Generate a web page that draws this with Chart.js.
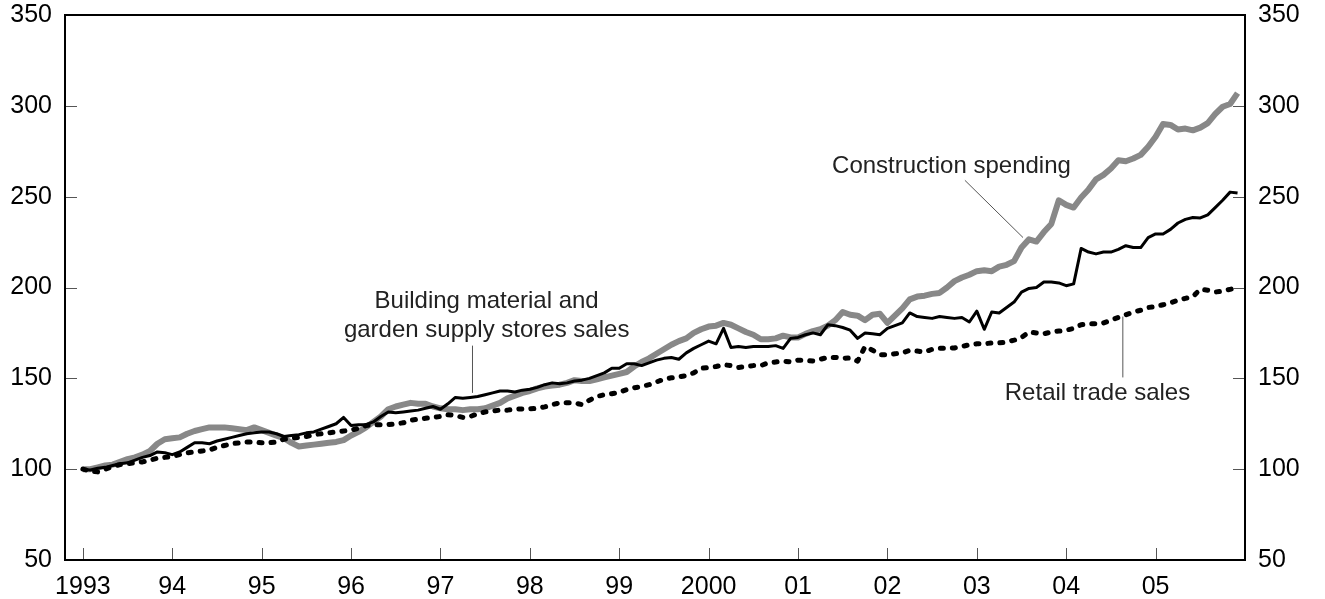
<!DOCTYPE html>
<html>
<head>
<meta charset="utf-8">
<script src="https://cdn.jsdelivr.net/npm/chart.js@4/dist/chart.umd.min.js"></script>
<style>
  html, body { margin: 0; padding: 0; background: #fff; }
  #wrap { width: 1325px; height: 599px; }
</style>
</head>
<body>
<div id="wrap"><canvas id="myChart" width="1325" height="599"></canvas></div>
<script>
// monthly index, Jan 1993 = 100
const construction = [
  100, 100, 101, 102, 102.5, 104, 105.5, 106.5, 108, 110, 114, 116.5,
  117, 117.5, 119.5, 121, 122, 123, 123, 123, 122.5, 122, 121.5, 123,
  121.5, 120, 118.5, 117, 114.5, 112.5, 113, 113.5, 114, 114.5, 115, 116,
  118.5, 120.5, 123, 126, 129, 133, 134.5, 135.5, 136.5, 136, 136, 134.5,
  133.5, 133, 133, 132.5, 133, 133, 133.5, 135, 136.5, 139, 140.5, 142,
  143, 144.5, 145.5, 146, 146.5, 147.5, 149, 148.5, 148.5, 149.5, 150.5, 151.5,
  152.5, 153.5, 156.5, 159, 161, 163.5, 166, 168.5, 170.5, 172, 175, 177,
  178.5, 179, 180.5, 179.5, 177.5, 175.5, 174, 171.5, 171.5, 172, 173.5, 172.5,
  172.5, 174.5, 176, 177, 179, 182, 186.5, 185, 184.5, 182, 185, 185.5,
  180.5, 184.5, 188.5, 193.5, 195, 195.5, 196.5, 197, 200, 203.5, 205.5, 207,
  209, 209.5, 209, 211.5, 212.5, 214.5, 222, 226.5, 225.3, 230.5, 235, 248,
  245.5, 244, 249.5, 254, 259.5, 262, 265.5, 270, 269.5, 271, 273, 277.5,
  283, 290, 289.5, 287, 287.5, 286.5, 288, 290.5, 295.5, 299.5, 301, 307
];
const building = [
  100, 99.5, 100.5, 101, 102, 103, 103.5, 105, 106.5, 107.5, 109.5, 109,
  108, 109.5, 112, 114.5, 114.5, 114, 115.5, 116.5, 117.5, 118.5, 119.5, 120,
  120.5, 120.5, 119.5, 118, 118.5, 119, 120, 120.5, 122, 123.5, 125, 128.5,
  124, 124.5, 124.5, 126, 129, 131.5, 131, 131.5, 132, 132.5, 133.5, 134.5,
  133, 136, 139.5, 139, 139.5, 140, 141, 142, 143, 143, 142.5, 143.5,
  144, 145, 146.5, 147.5, 147, 147.5, 148.5, 149, 150, 151.5, 153, 155.5,
  155.5, 158, 158, 157, 158.5, 160, 161, 161.5, 160.5, 164, 166.5, 168.5,
  170.5, 169, 177.5, 167, 167.5, 167, 167.5, 167.5, 167.5, 168, 166.5, 172,
  172.5, 174, 175, 174, 179.5, 179, 178, 176.5, 172, 175, 174.5, 174,
  177.5, 179, 180.5, 186, 184, 183.5, 183, 184, 183.5, 183, 183.5, 181,
  187, 177, 186.5, 186, 189, 192, 197.5, 199.5, 200, 203, 203, 202.5,
  201, 202, 221.5, 219.5, 218.5, 219.5, 219.5, 221, 223, 222, 222, 227.5,
  229.5, 229.5, 232, 235.5, 237.5, 238.5, 238.3, 240, 244, 248, 252.5, 252
];
const retail = [
  100, 99, 98.5, 100, 101.5, 102.5, 103, 103.5, 104, 105, 106, 106.5,
  107, 108, 109, 109.5, 110, 110.5, 112, 113, 114, 114.5, 115, 115,
  114.5, 114.5, 115, 116.5, 117, 117.5, 118, 119, 119.5, 120, 120.5, 121,
  121.5, 122.5, 124, 124.5, 124.5, 124.5, 125, 125.5, 127, 127.5, 128, 128.5,
  129, 130, 129.5, 128.5, 129, 130.5, 131.5, 132, 132.5, 132.5, 133, 133.2,
  133.2, 133.5, 134.3, 135.5, 136.5, 136.5, 136.5, 135.5, 138, 140, 141, 141.5,
  142.3, 143.8, 144.8, 145.5, 146.5, 148, 149.5, 150.3, 150.8, 151.5, 153, 155.5,
  156, 156.5, 157.5, 157, 156, 156.5, 157, 157, 158.5, 159, 159.5, 159,
  160, 160, 159.5, 160.5, 161.5, 161.5, 161, 161.2, 159.5, 167.5, 165.5, 163,
  163, 163.5, 164, 165.5, 165, 164.5, 166, 166.5, 166.5, 166.7, 167.5, 168.5,
  169, 169, 169.5, 169.5, 170, 171, 172.5, 175.5, 175, 174.5, 175.5, 176,
  176.5, 177.5, 179.5, 180, 180, 180.5, 182, 183.5, 185, 186.5, 187.5, 189,
  189.5, 190.5, 191.5, 193, 194, 195, 199, 198.5, 197.5, 198, 199, 200
];
const yearTicks = [0, 12, 24, 36, 48, 60, 72, 84, 96, 108, 120, 132, 144];
const yearLabels = ['1993', '94', '95', '96', '97', '98', '99', '2000', '01', '02', '03', '04', '05'];
const valueTicks = [50, 100, 150, 200, 250, 300, 350];

const FONT = "'Liberation Sans', Arial, sans-serif";
const toPoints = arr => arr.map((v, i) => ({ x: i, y: v }));

// labels: text lines at [month, value], leader from/to in data coords
const notes = [
  { lines: ['Construction spending'], at: [116.6, 266.5], from: [118.4, 259], to: [126.2, 227.5] },
  { lines: ['Building material and', 'garden supply stores sales'], at: [54.2, 192.5], from: [52.3, 168], to: [52.3, 142] },
  { lines: ['Retail trade sales'], at: [136.2, 141.5], from: [139.6, 150.5], to: [139.6, 184] }
];

const frame = {
  id: 'frame',
  afterDraw(chart) {
    const { ctx, chartArea: a, scales } = chart;
    ctx.save();
    ctx.strokeStyle = '#555';
    ctx.lineWidth = 1;
    ctx.beginPath();
    valueTicks.forEach(v => {
      const py = Math.round(scales.y.getPixelForValue(v)) + 0.5;
      ctx.moveTo(a.left, py); ctx.lineTo(a.left + 12, py);
      ctx.moveTo(a.right, py); ctx.lineTo(a.right - 12, py);
    });
    yearTicks.forEach(v => {
      const px = Math.round(scales.x.getPixelForValue(v)) + 0.5;
      ctx.moveTo(px, a.bottom); ctx.lineTo(px, a.bottom - 12);
    });
    ctx.stroke();

    ctx.strokeStyle = '#000';
    ctx.lineWidth = 2;
    ctx.strokeRect(a.left, a.top, a.right - a.left, a.bottom - a.top);

    // annotations
    ctx.fillStyle = '#222';
    ctx.font = '24px ' + FONT;
    ctx.textAlign = 'center';
    ctx.textBaseline = 'middle';
    notes.forEach(n => {
      const cx = scales.x.getPixelForValue(n.at[0]);
      const cy = scales.y.getPixelForValue(n.at[1]);
      n.lines.forEach((t, k) => ctx.fillText(t, cx, cy + k * 29));
      ctx.strokeStyle = '#555';
      ctx.lineWidth = 1;
      ctx.beginPath();
      ctx.moveTo(scales.x.getPixelForValue(n.from[0]), scales.y.getPixelForValue(n.from[1]));
      ctx.lineTo(scales.x.getPixelForValue(n.to[0]), scales.y.getPixelForValue(n.to[1]));
      ctx.stroke();
    });
    ctx.restore();
  }
};

const yAxis = (position, width) => ({
  type: 'linear',
  position: position,
  min: 50,
  max: 350,
  grid: { display: false, drawTicks: false },
  border: { display: false },
  ticks: { stepSize: 50, padding: 13, color: '#000', font: { family: FONT, size: 25 } },
  afterFit: s => { s.width = width; s.paddingTop = 0; s.paddingBottom = 0; }
});

const ctx = document.getElementById('myChart').getContext('2d');
const myChart = new Chart(ctx, {
  type: 'line',
  data: {
    datasets: [
      {
        label: 'Retail trade sales',
        data: toPoints(retail),
        borderColor: '#000',
        borderWidth: 5,
        borderDash: [3, 9],
        borderCapStyle: 'round',
        borderJoinStyle: 'round'
      },
      {
        label: 'Building material and garden supply stores sales',
        data: toPoints(building),
        borderColor: '#000',
        borderWidth: 3,
        borderJoinStyle: 'round'
      },
      {
        label: 'Construction spending',
        data: toPoints(construction),
        borderColor: '#888',
        borderWidth: 6,
        borderJoinStyle: 'round'
      }
    ]
  },
  options: {
    responsive: false,
    animation: false,
    devicePixelRatio: 1,
    layout: { padding: { top: 15, left: 0, right: 0, bottom: 0 } },
    elements: { point: { radius: 0 }, line: { tension: 0 } },
    plugins: { legend: { display: false }, tooltip: { enabled: false } },
    scales: {
      x: {
        type: 'linear',
        position: 'bottom',
        min: -2.4,
        max: 156,
        grid: { display: false, drawTicks: false },
        border: { display: false },
        afterBuildTicks: s => { s.ticks = yearTicks.map(v => ({ value: v })); },
        afterFit: s => { s.height = 39; s.paddingLeft = 0; s.paddingRight = 0; },
        ticks: {
          padding: 12,
          maxRotation: 0,
          autoSkip: false,
          color: '#000',
          font: { family: FONT, size: 25 },
          callback: v => yearLabels[yearTicks.indexOf(v)]
        }
      },
      y: yAxis('left', 65),
      y2: yAxis('right', 80)
    }
  },
  plugins: [frame]
});
</script>
</body>
</html>
